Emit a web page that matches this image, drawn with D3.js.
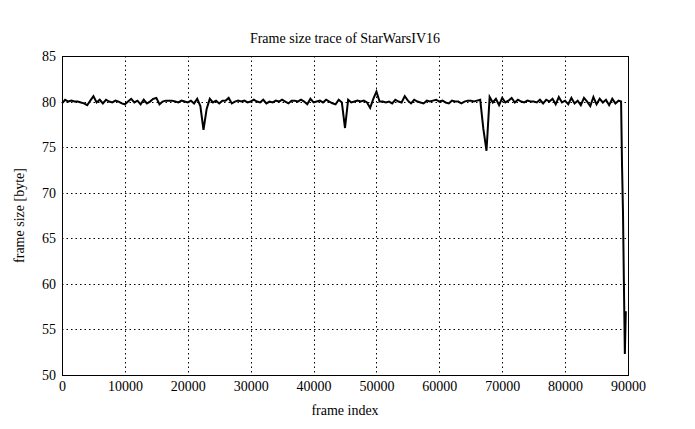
<!DOCTYPE html>
<html><head><meta charset="utf-8">
<script src="https://cdn.jsdelivr.net/npm/d3@7"></script>
<style>
body{margin:0;background:#fff;}
svg text{font-family:"Liberation Serif","DejaVu Serif","Times New Roman",Times,serif !important;fill:#000;}
</style></head>
<body><svg id="c" width="695" height="429"></svg>
<script>
const title = "Frame size trace of StarWarsIV16";
const xLabel = "frame index";
const yLabel = "frame size [byte]";
const xTicks = [0,10000,20000,30000,40000,50000,60000,70000,80000,90000];
const yTicks = [50,55,60,65,70,75,80,85];
// frame sizes sampled every 500 frames from 0 to 88500
const regularValues = [
79.8,80.2,80.0,80.1,80.0,80.0,79.9,79.8,79.6,80.1,80.6,79.9,80.2,79.8,80.2,80.0,79.9,80.1,80.0,79.8,
79.7,80.0,80.3,79.9,80.1,79.7,80.2,79.8,80.0,80.3,80.4,79.7,80.0,80.1,80.1,80.1,80.0,79.9,80.1,80.0,
79.9,80.1,79.8,80.3,79.5,76.9,79.2,80.3,79.9,80.1,79.8,80.1,80.1,80.4,79.8,80.0,80.1,80.0,80.1,79.9,
80.0,80.2,80.0,79.9,80.2,79.8,80.0,79.9,80.1,80.0,80.2,80.0,79.8,80.1,80.1,80.0,80.2,80.0,79.7,80.3,
79.9,80.0,80.1,79.9,80.2,80.0,79.8,79.7,80.2,79.9,77.1,80.2,79.9,80.0,80.1,80.0,80.1,79.9,79.3,80.3,
81.1,80.0,80.0,79.9,80.0,79.8,80.2,80.0,79.9,80.6,80.1,79.8,80.2,80.0,79.9,79.8,80.1,80.0,80.1,80.2,
80.0,80.1,79.9,79.8,80.1,80.0,80.0,79.8,80.0,80.1,80.1,80.0,80.1,80.2,77.0,74.6,80.5,79.9,80.3,79.6,
80.4,79.9,80.1,80.4,79.9,80.2,80.0,79.9,80.1,80.0,80.0,79.9,80.2,79.8,80.2,80.0,80.3,79.7,80.5,79.9,
80.1,79.7,80.4,79.8,80.1,79.6,80.4,80.0,79.5,80.5,79.7,80.3,79.9,80.2,79.6,80.3,79.8,80.1
];
const regularFrames = d3.range(0, 88501, 500);
const tailFrames = [88900, 89050, 89200, 89350, 89500, 89650];
const tailValues = [80.0, 73.0, 68.0, 60.0, 52.3, 57.0];

const frames = regularFrames.concat(tailFrames);
const values = regularValues.concat(tailValues);
const data = frames.map((f,i)=>({f, v: values[i]}));

const FONT = "'Liberation Serif','DejaVu Serif','Times New Roman',serif";
const svg = d3.select("#c");
const L=62, R=628, T=56, B=375;
const x = d3.scaleLinear().domain([0,90000]).range([L,R]);
const y = d3.scaleLinear().domain([50,85]).range([B,T]);

const g = svg.append("g");
g.selectAll("line.gx").data(xTicks.slice(1,-1)).join("line")
  .attr("x1",d=>Math.round(x(d))+0.5).attr("x2",d=>Math.round(x(d))+0.5).attr("y1",T).attr("y2",B)
  .attr("stroke","#000").attr("stroke-width",1).attr("stroke-dasharray","1.5,3");
g.selectAll("line.gy").data(yTicks.slice(1,-1)).join("line")
  .attr("y1",d=>Math.round(y(d))+0.5).attr("y2",d=>Math.round(y(d))+0.5).attr("x1",L).attr("x2",R)
  .attr("stroke","#000").attr("stroke-width",1).attr("stroke-dasharray","1.5,3");

const xAxis = d3.axisBottom(x).tickValues(xTicks).tickSize(0).tickPadding(6).tickFormat(d3.format("d"));
const yAxis = d3.axisLeft(y).tickValues(yTicks).tickSize(0).tickPadding(6);
const ax = svg.append("g").attr("transform",`translate(0,${B})`).call(xAxis);
const ay = svg.append("g").attr("transform",`translate(${L},0)`).call(yAxis);
[ax,ay].forEach(a=>{a.attr("font-family",FONT).attr("font-size",14); a.select(".domain").remove(); a.selectAll("text").attr("fill","#000");});

svg.append("rect").attr("x",L+0.5).attr("y",T+0.5).attr("width",R-L).attr("height",B-T)
  .attr("fill","none").attr("stroke","#000").attr("stroke-width",1);

svg.append("path").datum(data)
  .attr("d", d3.line().x(d=>x(d.f)).y(d=>y(d.v)))
  .attr("fill","none").attr("stroke","#000").attr("stroke-width",2).attr("stroke-linejoin","miter");

svg.append("text").attr("x",(L+R)/2).attr("y",43).attr("text-anchor","middle").style("font-size","14px").text(title);
svg.append("text").attr("x",(L+R)/2).attr("y",415).attr("text-anchor","middle").style("font-size","14px").text(xLabel);
svg.append("text").attr("transform",`translate(24,${(T+B)/2}) rotate(-90)`).attr("text-anchor","middle").style("font-size","14px").text(yLabel);
</script></body></html>
